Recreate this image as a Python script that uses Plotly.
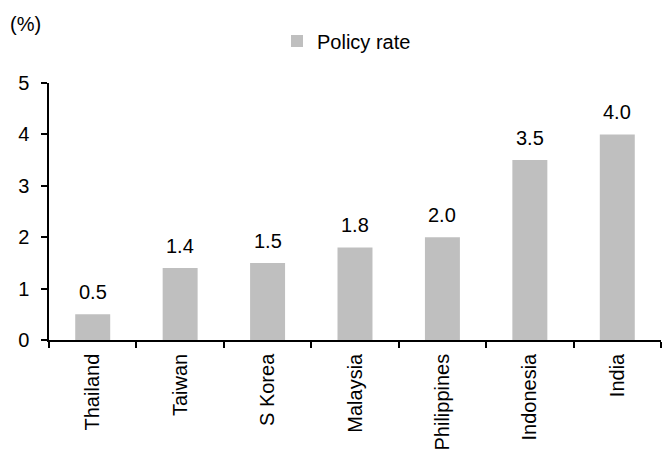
import plotly.graph_objects as go

countries = ["Thailand", "Taiwan", "S Korea", "Malaysia", "Philippines", "Indonesia", "India"]
policy_rate = [0.5, 1.4, 1.5, 1.8, 2.0, 3.5, 4.0]
y_ticks = [0, 1, 2, 3, 4, 5]

FONT = "Liberation Sans, Arial, sans-serif"
BAR_GREY = "#BFBFBF"
BLACK = "#000000"

fig = go.Figure()
fig.add_trace(go.Bar(
    x=countries,
    y=policy_rate,
    name="Policy rate",
    marker=dict(color=BAR_GREY, line=dict(width=0)),
))

# value labels above each bar
annotations = [
    dict(x=c, y=v, xref="x", yref="y", text=f"{v:.1f}", showarrow=False,
         xanchor="center", yanchor="bottom", yshift=9,
         font=dict(family=FONT, size=20, color=BLACK))
    for c, v in zip(countries, policy_rate)
]

# unit label in the top-left corner
annotations.append(dict(
    text="(%)", x=8 / 662, y=1 - 24 / 455, xref="paper", yref="paper",
    showarrow=False, xanchor="left", yanchor="middle",
    font=dict(family=FONT, size=20, color=BLACK),
))
annotations[-1].update(x=(8 - 49) / 612, y=(339.5 - 24) / 256.5)

fig.update_layout(
    width=662,
    height=455,
    margin=dict(l=49, r=1, t=83, b=115),
    paper_bgcolor="white",
    plot_bgcolor="white",
    bargap=0.6,
    font=dict(family=FONT, size=20, color=BLACK),
    showlegend=True,
    legend=dict(
        orientation="h",
        xref="container", yref="container",
        x=277 / 662, xanchor="left",
        y=1 - 41 / 455, yanchor="middle",
        font=dict(family=FONT, size=20, color=BLACK),
        bgcolor="rgba(0,0,0,0)",
    ),
    annotations=annotations,
)

fig.update_xaxes(
    showline=True, linecolor=BLACK, linewidth=1.5,
    ticks="outside", tickson="boundaries", ticklen=6, tickcolor=BLACK, tickwidth=1.5,
    tickangle=-90,
    ticklabelstandoff=4,
    tickfont=dict(family=FONT, size=20, color=BLACK),
    showgrid=False,
)
fig.update_yaxes(
    range=[0, 5],
    tickvals=y_ticks,
    showline=True, linecolor=BLACK, linewidth=1.5,
    ticks="outside", ticklen=6, tickcolor=BLACK, tickwidth=1.5,
    ticklabelstandoff=8,
    tickfont=dict(family=FONT, size=20, color=BLACK),
    showgrid=False, zeroline=False,
)

fig.write_html("out.html")
